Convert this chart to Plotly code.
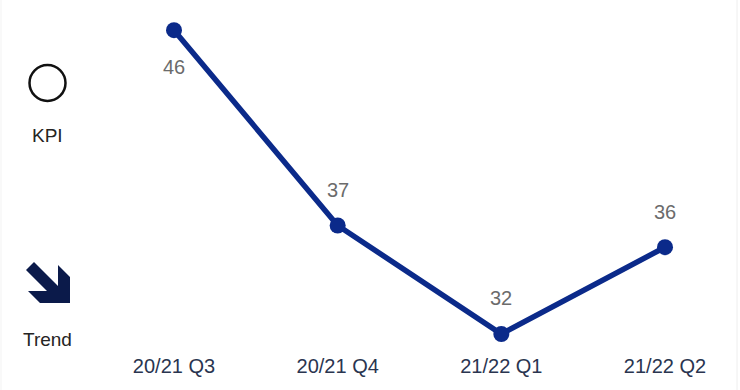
import plotly.graph_objects as go

# Quarterly KPI values
quarters = ["20/21 Q3", "20/21 Q4", "21/22 Q1", "21/22 Q2"]
kpi_values = [46, 37, 32, 36]
label_offsets = [-37, 36, 36, 35]  # px: negative = below the point

W, H = 740, 390
LINE_COLOR = "#0b2a8a"
ICON_COLOR = "#0b1a4a"
FONT = "Liberation Sans, Arial, sans-serif"


def px(x):
    return x / W


def py(y):
    return 1 - y / H


fig = go.Figure()

fig.add_trace(go.Scatter(
    x=quarters,
    y=kpi_values,
    mode="lines+markers",
    line=dict(color=LINE_COLOR, width=5.5),
    marker=dict(color=LINE_COLOR, size=16),
    hoverinfo="x+y",
    showlegend=False,
    cliponaxis=False,
))

annotations = []
for q, v, off in zip(quarters, kpi_values, label_offsets):
    annotations.append(dict(
        x=q, y=v, xref="x", yref="y", text=str(v), showarrow=False,
        xanchor="center", yanchor="middle",
        yshift=off, font=dict(family=FONT, size=20, color="#6b6b6b"),
    ))

# Side panel captions
for label, ypos in (("KPI", 135), ("Trend", 339)):
    annotations.append(dict(x=px(47), y=py(ypos), xref="paper", yref="paper",
                            text=label, showarrow=False,
                            xanchor="center", yanchor="middle",
                            font=dict(family=FONT, size=19, color="#252423")))


def path_from(points):
    pts = [f"{px(x):.5f},{py(y):.5f}" for x, y in points]
    return "M " + " L ".join(pts) + " Z"


# Down-right trend arrow
arrow_pts = [(34, 262), (58, 286), (58, 265), (70, 277), (70, 303),
             (40, 303), (28, 291), (47, 291), (26, 270)]

shapes = [
    dict(type="circle", xref="paper", yref="paper",
         x0=px(29.5), x1=px(65.5), y0=py(101), y1=py(65),
         line=dict(color="#111111", width=2.5), fillcolor="rgba(0,0,0,0)"),
    dict(type="path", xref="paper", yref="paper", path=path_from(arrow_pts),
         fillcolor=ICON_COLOR, line=dict(width=0)),
    dict(type="line", xref="paper", yref="paper", x0=px(737), x1=px(737),
         y0=0, y1=1, line=dict(color="#eeeeee", width=1)),
    dict(type="line", xref="paper", yref="paper", x0=px(1), x1=px(1),
         y0=0, y1=1, line=dict(color="#f3f3f3", width=1)),
]

# Axis ranges chosen so category spacing and value scale fill the canvas
step = 163.67
x0_px = 174
xr = [-x0_px / step, (W - x0_px) / step]
unit = 21.7
bottom_px = 352
yr = [32 - (bottom_px - 334) / unit, 32 + 334 / unit]

fig.update_layout(
    width=W, height=H,
    margin=dict(l=0, r=0, t=0, b=0),
    paper_bgcolor="white", plot_bgcolor="white",
    xaxis=dict(domain=[0, 1], range=xr, showgrid=False, zeroline=False,
               showline=False, ticks="", automargin=False,
               tickfont=dict(family=FONT, size=20, color="#2a3550")),
    yaxis=dict(domain=[1 - bottom_px / H, 1], range=yr, visible=False,
               automargin=False),
    annotations=annotations,
    shapes=shapes,
)

fig.write_html("out.html")
